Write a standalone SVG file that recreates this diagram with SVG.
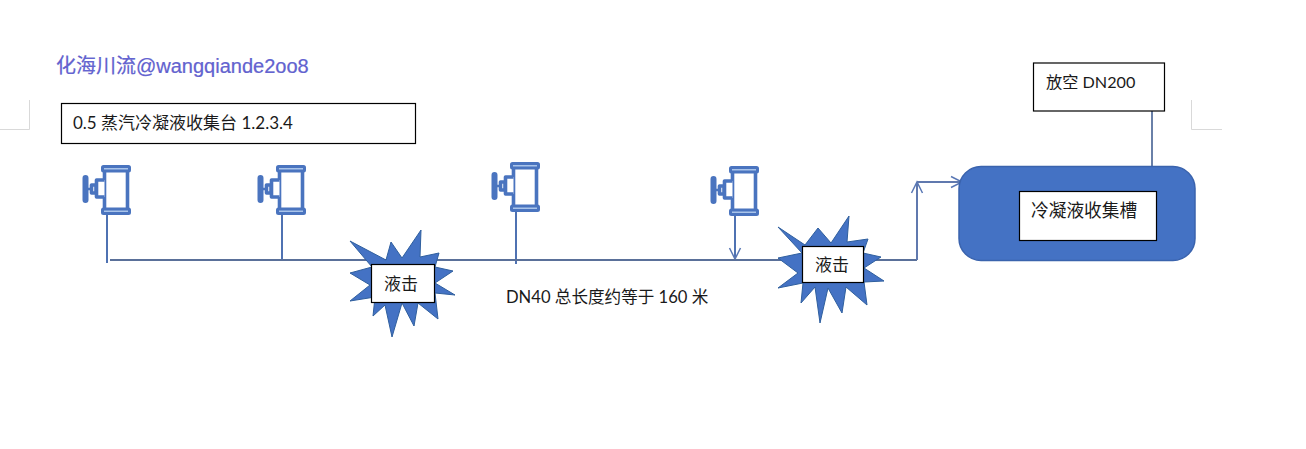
<svg xmlns="http://www.w3.org/2000/svg" width="1306" height="449" viewBox="0 0 1306 449">
<style>
.t{font-family:"Lato","Noto Sans CJK SC",sans-serif;font-size:16.6px;fill:#1a1a1a}
.wm{font-family:"Liberation Sans","Noto Sans CJK SC",sans-serif;font-size:20px;fill:#6464d2;stroke:#5050c0;stroke-width:.2}
.box{fill:#fff;stroke:#000;stroke-width:1.2}
.star{fill:#4472c4;stroke:#2f5f9e;stroke-width:1}
.pipe{fill:none;stroke:#5a7099;stroke-width:2}
.drop{fill:none;stroke:#4f72b2;stroke-width:2}
.mark{fill:none;stroke:#d9d9d9;stroke-width:1}
.v{fill:#fff;stroke:#4a74bf;stroke-width:3.600;stroke-linejoin:round}
.vf{fill:#a9c4ea;stroke:#4a74bf;stroke-width:3;stroke-linejoin:round}
</style>
<defs>
<marker id="open" markerWidth="14" markerHeight="14" refX="12" refY="7" orient="auto" markerUnits="userSpaceOnUse"><path d="M1 1.500L12 7L1 12.500" fill="none" stroke="#5a78b5" stroke-width="1.500"/></marker>
<g id="valve">
<rect class="v" x="-2.500" y="-47" width="23" height="44"/>
<rect class="vf" x="-4.500" y="-48.500" width="27" height="4.500" rx="1"/>
<rect class="vf" x="-4.500" y="-6" width="27" height="4.500" rx="1"/>
<path class="v" d="M-2.500-35H-10.500V-18H-2.500"/>
<rect class="v" x="-15.500" y="-30" width="4.500" height="8"/>
<rect class="vf" x="-23" y="-38.500" width="3" height="25" rx="1.500"/>
<path class="v" d="M-20-26H-15.500" style="stroke-width:2.500"/>
</g>
</defs>
<path class="mark" d="M0 129.500H29.500V100M1191.500 100V129.500H1222"/>
<g id="connectors">
<path class="drop" d="M107 214V263M282 214V260M516 212V264"/>
<path class="drop" d="M735 215V259" marker-end="url(#open)"/>
<path class="pipe" d="M110 260H917"/>
<path class="pipe" d="M917 260V182" marker-end="url(#open)" style="stroke:#6079ae"/>
<path class="pipe" d="M917 182H962" marker-end="url(#open)" style="stroke:#6079ae"/>
<path class="pipe" d="M1152 111V167" style="stroke:#6a80a8"/>
</g>
<g id="watermark"><text class="wm" x="56" y="72.500">化海川流@wangqiande2oo8</text></g>
<g id="title"><rect class="box" x="61.500" y="103.500" width="354" height="40"/><text class="t" x="73" y="129" style="font-size:17px">0.5 蒸汽冷凝液收集台 1.2.3.4</text></g>
<g id="valve1"><use href="#valve" x="107" y="215"/></g>
<g id="valve2"><use href="#valve" x="282" y="215"/></g>
<g id="valve3"><use href="#valve" x="516" y="212"/></g>
<g id="valve4"><use href="#valve" x="735" y="216"/></g>
<g id="hammer1">
<polygon class="star" points="350,241 386,260 391,242 402,258 421,230 420,257 439,253 435,267 453,271 435,283 455,295 435,293 438,319 418,303 414,326 402,303 392,337 385,305 373,316 375,297 350,301 370,285 350,273 372,267"/>
<rect class="box" x="371.500" y="264.500" width="63" height="38"/>
<text class="t" x="384" y="290" style="font-size:17px">液击</text>
</g>
<g id="hammer2">
<polygon class="star" points="778,227 805,245 818,228 831,243 849,216 847,242 868,239 863,253 881,257 864,268 884,281 864,282 867,305 846,287 842,313 828,288 820,323 815,287 801,303 803,283 778,288 798,273 778,258 802,253"/>
<rect class="box" x="802.500" y="246.500" width="61" height="36"/>
<text class="t" x="815" y="271" style="font-size:17px">液击</text>
</g>
<g id="note"><text class="t" x="506" y="303">DN40 总长度约等于 160 米</text></g>
<g id="tank">
<rect x="959" y="166.500" width="236" height="94" rx="22" fill="#4472c4" stroke="#3a63ad" stroke-width="1.500"/>
<rect class="box" x="1019.500" y="191.500" width="137" height="49"/>
<text class="t" x="1031" y="217" style="font-size:17.700px">冷凝液收集槽</text>
</g>
<g id="vent"><rect class="box" x="1033.500" y="63" width="131" height="48"/><text class="t" x="1046" y="88" style="font-size:16.200px">放空 DN200</text></g>
</svg>
